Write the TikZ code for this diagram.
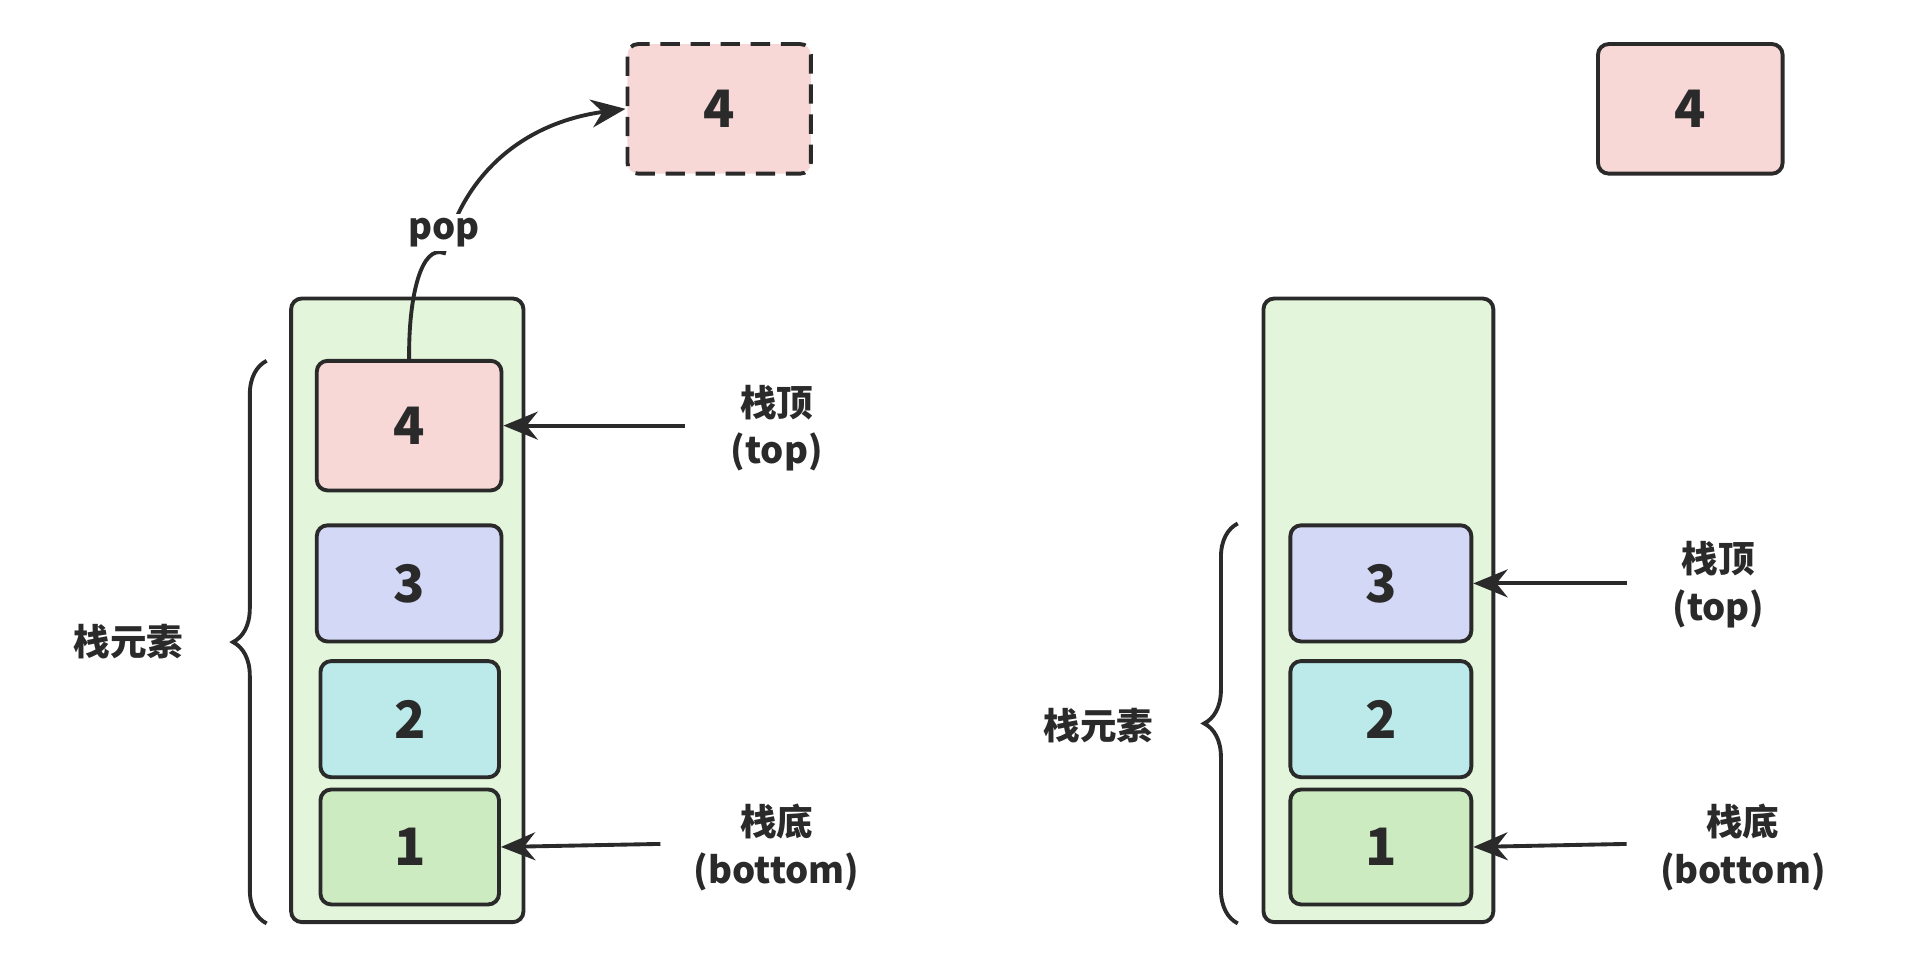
\documentclass[tikz,border=0pt]{standalone}
\usepackage{fontspec}
\setmainfont{Noto Sans CJK SC}
\usetikzlibrary{arrows.meta,decorations.pathreplacing}
\definecolor{stackbg}{HTML}{E3F5DA}
\definecolor{pinkc}{HTML}{F8D7D7}
\definecolor{bluec}{HTML}{D4D8F7}
\definecolor{cyanc}{HTML}{BCEAEA}
\definecolor{greenc}{HTML}{CDEBC0}
\definecolor{ink}{HTML}{2A2A2A}
\begin{document}
\begin{tikzpicture}[x=0.02cm,y=-0.02cm,line width=1.8pt,draw=ink,
  box/.style={draw=ink,rounded corners=5pt,inner sep=0pt,font=\fontsize{24}{28}\selectfont\bfseries,text=ink},
  lbl/.style={font=\fontsize{17}{22}\selectfont\bfseries,text=ink,align=center},
  arr/.style={-{Stealth[length=16pt,width=13pt]},ink,line width=1.8pt},
  brc/.style={decorate,decoration={brace,amplitude=0.55cm},ink}]
\useasboundingbox (0,0) rectangle (1560,797);
% left stack
\node[box,fill=stackbg,minimum width=3.8cm,minimum height=10.2cm] (L) at (333,499) {};
\node[box,fill=pinkc,minimum width=3.02cm,minimum height=2.12cm] (L4) at (334.5,348) {4};
\node[box,fill=bluec,minimum width=3.02cm,minimum height=1.9cm] (L3) at (334.5,477) {3};
\node[box,fill=cyanc,minimum width=2.92cm,minimum height=1.9cm] (L2) at (335,588) {2};
\node[box,fill=greenc,minimum width=2.92cm,minimum height=1.88cm] (L1) at (335,692.5) {1};
\node[box,fill=pinkc,dashed,dash pattern=on 9pt off 5pt,minimum width=3cm,minimum height=2.12cm] (P) at (588,89) {4};
\node[lbl,fill=white,inner sep=2pt] (pop) at (363,190) {pop};
\draw[arr] (L4.north) .. controls (334,240) and (345,200) .. (pop.south) .. controls (380,140) and (430,100) .. (P.west);
\node[lbl,fill=white,inner sep=2pt] at (pop) {pop};
\coordinate (LT) at (560,348);
\coordinate (LB) at (540,690);
\draw[arr] (LT) -- (L4.east);
\draw[arr] (LB) -- (L1.east);
\node[lbl] (LTt) at (635,350) {栈顶\\(top)};
\node[lbl] (LBt) at (635,693) {栈底\\(bottom)};
\coordinate (LbB) at (218,755);
\coordinate (LbT) at (218,295);
\draw[brc] (LbB) -- (LbT);
\node[lbl] (Le) at (105,525) {栈元素};
% right stack
\node[box,fill=stackbg,minimum width=3.76cm,minimum height=10.2cm] (R) at (1127,499) {};
\node[box,fill=bluec,minimum width=2.96cm,minimum height=1.9cm] (R3) at (1129,477) {3};
\node[box,fill=cyanc,minimum width=2.96cm,minimum height=1.9cm] (R2) at (1129,588) {2};
\node[box,fill=greenc,minimum width=2.96cm,minimum height=1.88cm] (R1) at (1129,692.5) {1};
\node[box,fill=pinkc,minimum width=3.02cm,minimum height=2.12cm] (RP) at (1382,89) {4};
\coordinate (RT) at (1330,477);
\coordinate (RB) at (1330,690);
\draw[arr] (RT) -- (R3.east);
\draw[arr] (RB) -- (R1.east);
\node[lbl] (RTt) at (1405,478) {栈顶\\(top)};
\node[lbl] (RBt) at (1425,693) {栈底\\(bottom)};
\coordinate (RbB) at (1012,755);
\coordinate (RbT) at (1012,428);
\draw[brc] (RbB) -- (RbT);
\node[lbl] (Re) at (898,593) {栈元素};
\end{tikzpicture}
\end{document}
